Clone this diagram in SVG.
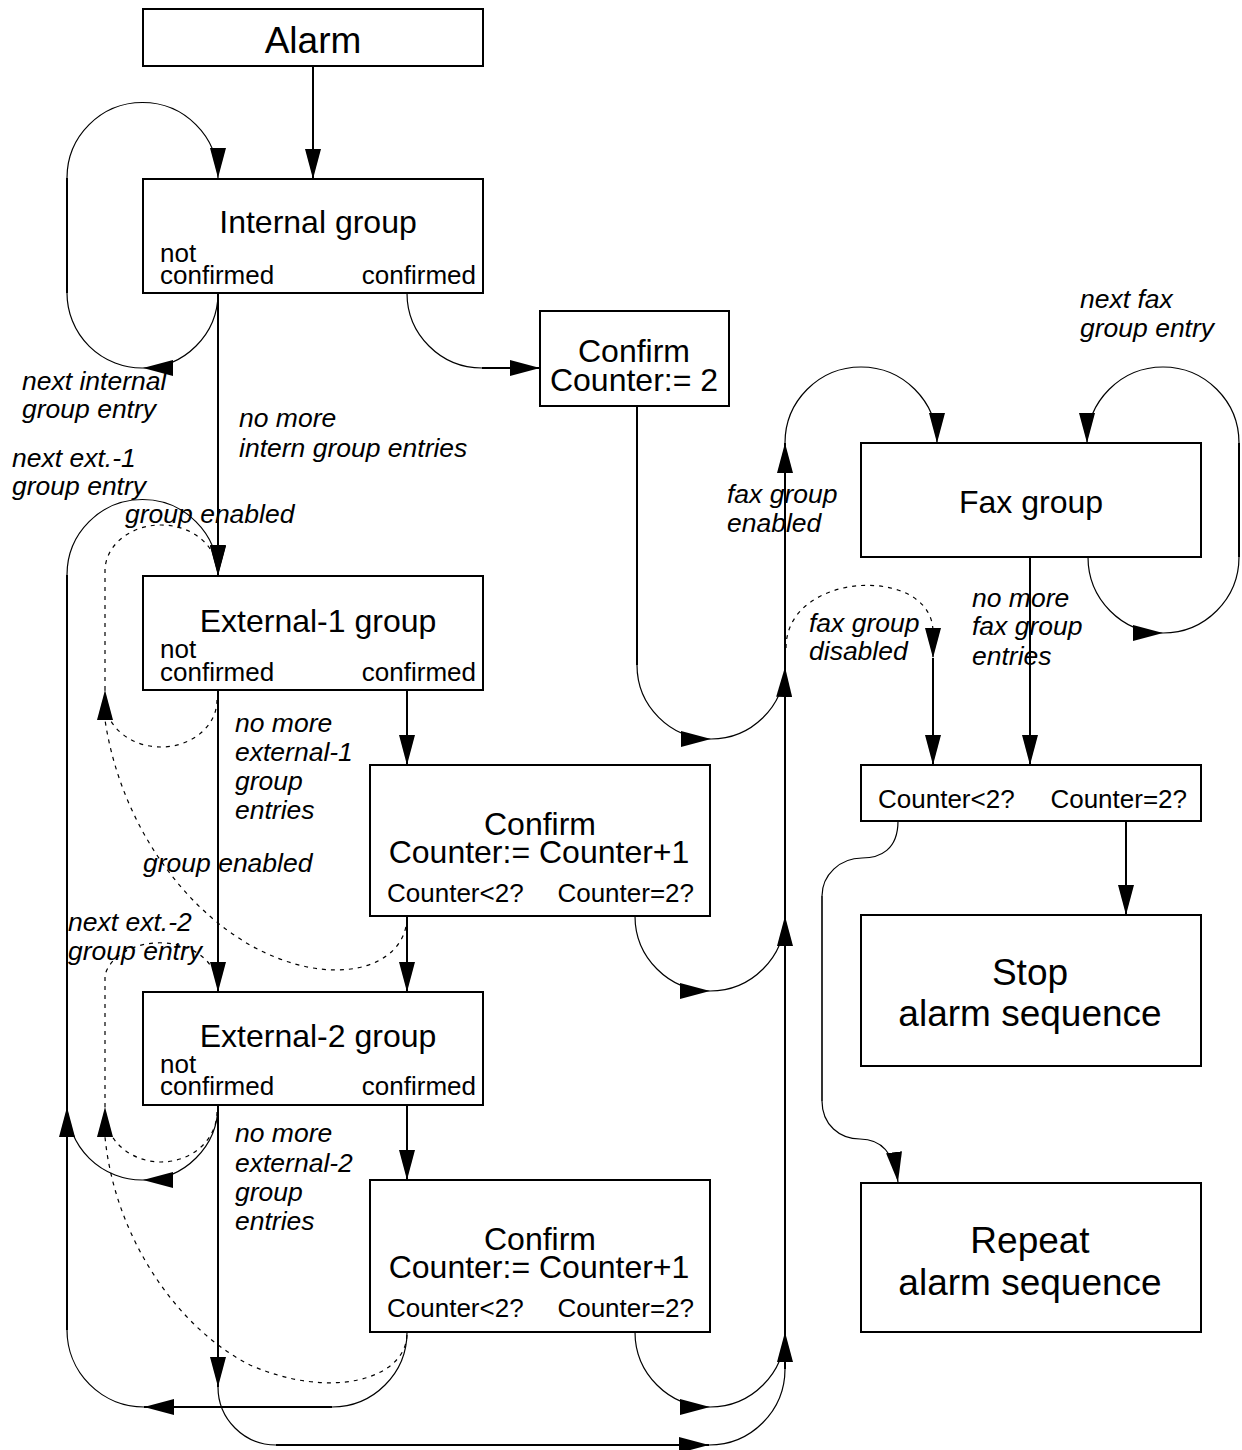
<svg xmlns="http://www.w3.org/2000/svg" width="1242" height="1450" viewBox="0 0 1242 1450">
<defs>
<marker id="ah" markerUnits="userSpaceOnUse" viewBox="0 0 30 16" markerWidth="30" markerHeight="16" refX="30" refY="8" orient="auto">
<path d="M0,0 L30,8 L0,16 Z" fill="#000" stroke="none"/>
</marker>
<style>
.box{fill:#fff;stroke:#000;stroke-width:2}
.ln{fill:none;stroke:#000;stroke-width:2}
.cv{fill:none;stroke:#000;stroke-width:1.2}
.ds{fill:none;stroke:#000;stroke-width:1.2;stroke-dasharray:4 5}
.m{marker-end:url(#ah)}
text{font-family:"Liberation Sans",Arial,Helvetica,sans-serif;fill:#000}
.t36{font-size:37px;text-anchor:middle}
.t32{font-size:32px;text-anchor:middle}
.t26{font-size:26px}
.r{text-anchor:end}
.lab{font-size:26.5px;font-style:italic}
</style>
</defs>
<rect width="1242" height="1450" fill="#fff"/>
<g id="connectors">
<path class="ln m" d="M313,66 V179"/>
<path class="ln m" d="M218,293 V576"/>
<path class="ln m" d="M218,690 V992"/>
<path class="ln m" d="M218,1105 V1387"/>
<path class="ln m" d="M407,690 V765"/>
<path class="ln m" d="M407,916 V992"/>
<path class="ln m" d="M407,1105 V1180"/>
<path class="ln" d="M637,406 V665"/>
<path class="ln m" d="M785,1369 V443"/>
<path class="ln m" d="M67,1330 V1107"/>
<path class="ln" d="M67,1107 V575"/>
<path class="ln" d="M67,293 V178"/>
<path class="ln m" d="M332,1407 H144"/>
<path class="ln m" d="M276,1445 H709"/>
<path class="ln m" d="M482,368 H540"/>
<path class="ln m" d="M933,658 V765"/>
<path class="ln m" d="M1030,557 V765"/>
<path class="ln m" d="M1126,821 V915"/>
<path class="ln" d="M1239,557 V443"/>
<path class="ln" d="M822,896 V1101" style="stroke-width:1.6"/>
<path class="cv m" d="M218,293 A75,75 0 0 1 143,368"/>
<path class="cv" d="M143,368 A75,75 0 0 1 67,293"/>
<path class="cv m" d="M67,178 A75.5,75.5 0 0 1 218,178"/>
<path class="cv" d="M407,293 A75,75 0 0 0 482,368"/>
<path class="cv m" d="M67,575 A75.5,75.5 0 0 1 218,575"/>
<path class="cv m" d="M218,1105 A75,75 0 0 1 143,1180"/>
<path class="cv" d="M143,1180 A75,75 0 0 1 67,1105"/>
<path class="cv" d="M407,1332 A75,75 0 0 1 332,1407"/>
<path class="cv" d="M144,1407 A77,77 0 0 1 67,1330"/>
<path class="cv" d="M218,1387 A58,58 0 0 0 276,1445"/>
<path class="cv" d="M709,1445 A76,76 0 0 0 785,1369"/>
<path class="cv m" d="M635,1332 A75,75 0 0 0 710,1407"/>
<path class="cv m" d="M710,1407 A75,75 0 0 0 785,1332"/>
<path class="cv m" d="M635,916 A75,75 0 0 0 710,991"/>
<path class="cv m" d="M710,991 A75,75 0 0 0 785,916"/>
<path class="cv m" d="M637,665 A74,74 0 0 0 711,739"/>
<path class="cv m" d="M711,739 A74,74 0 0 0 785,667"/>
<path class="cv m" d="M785,443 A76,76 0 0 1 937,443"/>
<path class="cv m" d="M1088,557 A75,76 0 0 0 1163,633"/>
<path class="cv" d="M1163,633 A76,76 0 0 0 1239,557"/>
<path class="cv m" d="M1239,443 A76,76 0 0 0 1087,443"/>
<path class="cv" d="M898,821 C898,850 880,858 862,858 C840,858 822,875 822,896"/>
<path class="cv m" d="M822,1101 C822,1125 840,1139 860,1139 C880,1139 894,1152 898,1182"/>
<path class="ds m" d="M217,700 A56,47 0 0 1 105,700 L105,690"/>
<path class="ds" d="M105,690 V570 A56,46 0 0 1 212,552"/>
<path class="ds" d="M407,918 C405,970 330,990 250,945 C180,905 120,820 105,720"/>
<path class="ds m" d="M217,1112 A56,50 0 0 1 105,1112 L105,1107"/>
<path class="ds" d="M105,1107 V975 A56,40 0 0 1 213,970"/>
<path class="ds" d="M407,1335 C405,1380 330,1400 250,1365 C180,1330 115,1240 105,1137"/>
<path class="ds m" d="M786,648 C786,570 933,565 933,632 L933,658"/>
</g>
<g id="n-alarm"><rect class="box" x="143" y="9" width="340" height="57"/><text class="t36" x="313" y="53">Alarm</text></g>
<g id="n-internal"><rect class="box" x="143" y="179" width="340" height="114"/><text class="t32" x="318" y="233">Internal group</text><text class="t26" x="160" y="262">not</text><text class="t26" x="160" y="284">confirmed</text><text class="t26 r" x="476" y="284">confirmed</text></g>
<g id="n-confirm0"><rect class="box" x="540" y="311" width="189" height="95"/><text class="t32" x="634" y="362">Confirm</text><text class="t32" x="634" y="391">Counter:= 2</text></g>
<g id="n-fax"><rect class="box" x="861" y="443" width="340" height="114"/><text class="t32" x="1031" y="513">Fax group</text></g>
<g id="n-ext1"><rect class="box" x="143" y="576" width="340" height="114"/><text class="t32" x="318" y="632">External-1 group</text><text class="t26" x="160" y="658">not</text><text class="t26" x="160" y="681">confirmed</text><text class="t26 r" x="476" y="681">confirmed</text></g>
<g id="n-confirm1"><rect class="box" x="370" y="765" width="340" height="151"/><text class="t32" x="540" y="835">Confirm</text><text class="t32" x="539" y="863">Counter:= Counter+1</text><text class="t26" x="387" y="902">Counter&lt;2?</text><text class="t26 r" x="694" y="902">Counter=2?</text></g>
<g id="n-counter"><rect class="box" x="861" y="765" width="340" height="56"/><text class="t26" x="878" y="808">Counter&lt;2?</text><text class="t26 r" x="1187" y="808">Counter=2?</text></g>
<g id="n-stop"><rect class="box" x="861" y="915" width="340" height="151"/><text class="t36" x="1030" y="985">Stop</text><text class="t36" x="1030" y="1026">alarm sequence</text></g>
<g id="n-ext2"><rect class="box" x="143" y="992" width="340" height="113"/><text class="t32" x="318" y="1047">External-2 group</text><text class="t26" x="160" y="1073">not</text><text class="t26" x="160" y="1095">confirmed</text><text class="t26 r" x="476" y="1095">confirmed</text></g>
<g id="n-confirm2"><rect class="box" x="370" y="1180" width="340" height="152"/><text class="t32" x="540" y="1250">Confirm</text><text class="t32" x="539" y="1278">Counter:= Counter+1</text><text class="t26" x="387" y="1317">Counter&lt;2?</text><text class="t26 r" x="694" y="1317">Counter=2?</text></g>
<g id="n-repeat"><rect class="box" x="861" y="1183" width="340" height="149"/><text class="t36" x="1030" y="1253">Repeat</text><text class="t36" x="1030" y="1295">alarm sequence</text></g>
<g id="labels">
<text class="lab" x="22" y="390">next internal</text>
<text class="lab" x="22" y="418">group entry</text>
<text class="lab" x="239" y="427">no more</text>
<text class="lab" x="239" y="457">intern group entries</text>
<text class="lab" x="12" y="467">next ext.-1</text>
<text class="lab" x="12" y="495">group entry</text>
<text class="lab" x="125" y="523">group enabled</text>
<text class="lab" x="235" y="732">no more</text>
<text class="lab" x="235" y="761">external-1</text>
<text class="lab" x="235" y="790">group</text>
<text class="lab" x="235" y="819">entries</text>
<text class="lab" x="143" y="872">group enabled</text>
<text class="lab" x="68" y="931">next ext.-2</text>
<text class="lab" x="68" y="960">group entry</text>
<text class="lab" x="235" y="1142">no more</text>
<text class="lab" x="235" y="1172">external-2</text>
<text class="lab" x="235" y="1201">group</text>
<text class="lab" x="235" y="1230">entries</text>
<text class="lab" x="727" y="503">fax group</text>
<text class="lab" x="727" y="532">enabled</text>
<text class="lab" x="1080" y="308">next fax</text>
<text class="lab" x="1080" y="337">group entry</text>
<text class="lab" x="809" y="632">fax group</text>
<text class="lab" x="809" y="660">disabled</text>
<text class="lab" x="972" y="607">no more</text>
<text class="lab" x="972" y="635">fax group</text>
<text class="lab" x="972" y="665">entries</text>
</g>
</svg>
